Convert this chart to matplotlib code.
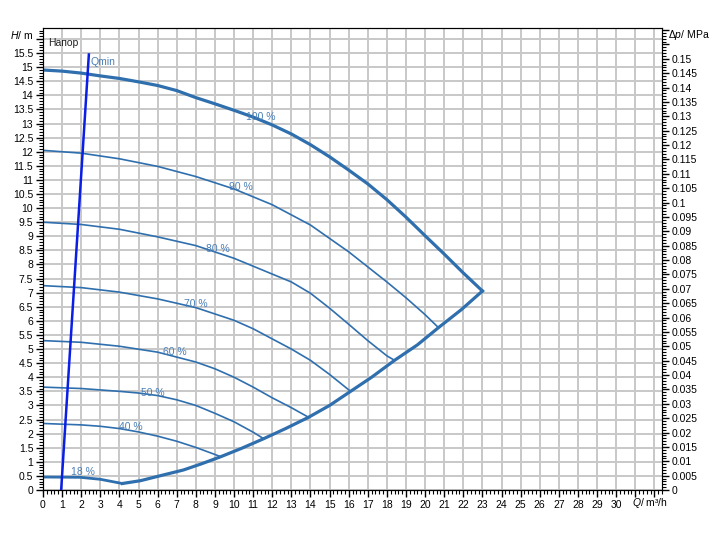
import matplotlib
matplotlib.use("Agg")
import matplotlib.pyplot as plt
from matplotlib.ticker import MultipleLocator, FuncFormatter

plt.rcParams['font.family'] = ['Liberation Sans', 'DejaVu Sans']
plt.rcParams['mathtext.fontset'] = 'custom'
plt.rcParams['mathtext.it'] = 'Liberation Sans:italic'
plt.rcParams['mathtext.rm'] = 'Liberation Sans'

# Кривые напора (Q в м³/ч, H в м) при разной скорости
q100 = [0, 1, 2, 3, 4, 5, 6, 7, 8, 9, 10, 11, 12, 13, 14, 15, 16, 17, 18, 19, 20, 21, 22, 23]
h100 = [14.9, 14.86, 14.79, 14.69, 14.6, 14.48, 14.35, 14.17, 13.92, 13.7, 13.47, 13.23,
        12.95, 12.63, 12.25, 11.82, 11.35, 10.86, 10.3, 9.68, 9.02, 8.37, 7.7, 7.06]
q90 = [0, 2, 4, 6, 8, 10, 12, 14, 16, 18, 19, 20, 20.7]
h90 = [12.05, 11.95, 11.75, 11.48, 11.12, 10.68, 10.12, 9.4, 8.45, 7.38, 6.82, 6.22, 5.76]
q80 = [0, 2, 4, 6, 8, 10, 12, 13, 14, 15, 16, 17, 18, 18.4]
h80 = [9.5, 9.42, 9.25, 8.98, 8.67, 8.22, 7.66, 7.38, 6.98, 6.45, 5.88, 5.3, 4.76, 4.6]
q70 = [0, 2, 4, 6, 8, 10, 11, 12, 13, 14, 15, 16.1]
h70 = [7.25, 7.18, 7.02, 6.78, 6.47, 6.02, 5.72, 5.36, 5.0, 4.6, 4.1, 3.5]
q60 = [0, 2, 4, 6, 8, 9, 10, 11, 12, 13, 13.9]
h60 = [5.3, 5.24, 5.1, 4.89, 4.54, 4.3, 4.0, 3.65, 3.27, 2.92, 2.58]
q50 = [0, 2, 4, 5, 6, 7, 8, 9, 10, 11, 11.55]
h50 = [3.65, 3.6, 3.5, 3.44, 3.35, 3.2, 3.0, 2.72, 2.42, 2.05, 1.82]
q40 = [0, 2, 3, 4, 5, 6, 7, 8, 9, 9.3]
h40 = [2.36, 2.31, 2.26, 2.18, 2.06, 1.91, 1.73, 1.51, 1.26, 1.18]
q18 = [0, 1.95, 3.0, 4.15]
h18 = [0.46, 0.45, 0.38, 0.23]
# нижняя граница рабочего поля
q_low = [4.15, 5.1, 6.1, 7.35, 8.3, 9.3, 10.4, 11.55, 12.7, 13.9, 15, 16.1, 17.2,
         18.4, 19.6, 20.7, 21.9, 23.0]
h_low = [0.23, 0.33, 0.5, 0.71, 0.93, 1.18, 1.48, 1.82, 2.18, 2.58, 3.0, 3.5, 4.0,
         4.6, 5.15, 5.76, 6.4, 7.06]
# линия Qmin
q_min = [0.95, 2.4]
h_min = [0, 15.45]

labels = ['100 %', '90 %', '80 %', '70 %', '60 %', '50 %', '40 %', '18 %']
label_q = [11.4, 10.37, 9.16, 8.01, 6.91, 5.76, 4.61, 2.09]
label_h = [13.23, 10.75, 8.55, 6.6, 4.9, 3.44, 2.23, 0.64]

line_col = '#2f6fae'
text_col = '#4a7fb8'

fig = plt.figure(figsize=(7.21, 5.34), dpi=100)
ax = fig.add_axes([43/721, 44/534, 619/721, 462/534])

xmax, ymax = 32.4, 16.39
ax.set_xlim(0, xmax)
ax.set_ylim(0, ymax)

ax.xaxis.set_major_locator(MultipleLocator(1))
ax.xaxis.set_minor_locator(MultipleLocator(0.2))
ax.yaxis.set_major_locator(MultipleLocator(0.5))
ax.yaxis.set_minor_locator(MultipleLocator(0.1))
ax.grid(True, which='major', color='#c8c8c8', linewidth=1.4)
ax.set_axisbelow(True)

ax.xaxis.set_major_formatter(FuncFormatter(lambda v, p: f'{v:g}' if v <= 30.01 else ''))
ax.yaxis.set_major_formatter(FuncFormatter(lambda v, p: f'{round(v, 2):g}' if v <= 15.51 else ''))
ax.tick_params(which='major', direction='out', length=5, width=1, labelsize=7.5, pad=2)
ax.tick_params(which='minor', direction='out', length=3, width=0.8)

for q, h in [(q90, h90), (q80, h80), (q70, h70), (q60, h60), (q50, h50), (q40, h40)]:
    ax.plot(q, h, color=line_col, lw=1.2)
ax.plot(q100, h100, color=line_col, lw=2.3)
ax.plot(q18, h18, color=line_col, lw=2.0)
ax.plot(q_low, h_low, color=line_col, lw=2.3)
ax.plot(q_min, h_min, color='#0a1ee6', lw=1.8)

for t, x, y in zip(labels, label_q, label_h):
    ax.text(x, y, t, color=text_col, fontsize=7.5, ha='center', va='center')
ax.text(2.51, 15.18, 'Qmin', color=text_col, fontsize=7.5, ha='left', va='center')
ax.text(0.25, 15.85, 'Напор', color='#222222', fontsize=7.5, ha='left', va='center')

for s in ax.spines.values():
    s.set_color('#333333')

# правая ось: перепад давления в МПа
ax2 = ax.twinx()
ax2.set_ylim(0, ymax * 9.80665e-3)
ax2.yaxis.set_major_locator(MultipleLocator(0.005))
ax2.yaxis.set_minor_locator(MultipleLocator(0.001))
ax2.yaxis.set_major_formatter(FuncFormatter(lambda v, p: f'{round(v, 3):g}' if v < 0.1505 else ''))
ax2.tick_params(which='major', direction='out', length=5, width=1, labelsize=7.5, pad=2)
ax2.tick_params(which='minor', direction='out', length=3, width=0.8)

fig.text(33/721, 1 - 35/534, r'$\it{H}$/ m', fontsize=7.5, ha='right', va='center')
fig.text(668/721, 1 - 35/534, r'$\Delta\it{p}$/ MPa', fontsize=7.5, ha='left', va='center')
fig.text(632/721, 1 - 503/534, r'$\it{Q}$/ m³/h', fontsize=7.5, ha='left', va='center')

fig.savefig('out.png', dpi=100)
